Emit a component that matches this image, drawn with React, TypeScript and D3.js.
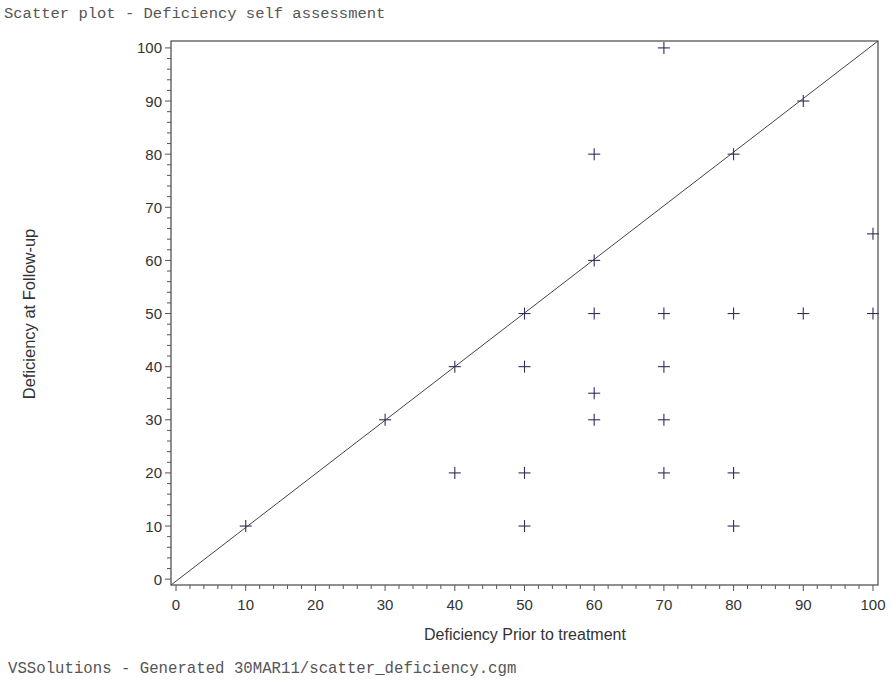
import { useEffect, useRef } from "react";
import * as d3 from "d3";

const W = 891;
const H = 682;

// follow-up deficiency vs deficiency prior to treatment
const priorValues = [10, 30, 40, 40, 50, 50, 50, 50, 60, 60, 60, 60, 60, 70, 70, 70, 70, 70, 80, 80, 80, 80, 90, 90, 100, 100];
const followValues = [10, 30, 40, 20, 50, 40, 20, 10, 80, 60, 50, 35, 30, 100, 50, 40, 30, 20, 80, 50, 20, 10, 90, 50, 65, 50];
const tickValues = [0, 10, 20, 30, 40, 50, 60, 70, 80, 90, 100];

const FRAME = { left: 171, right: 878, top: 41, bottom: 585 };

export default function App() {
  const svgRef = useRef<SVGSVGElement | null>(null);

  useEffect(() => {
    const svg = d3.select(svgRef.current);
    svg.selectAll("*").remove();

    // axis ranges padded a little so 0 and 100 sit inside the frame
    const x = d3.scaleLinear().domain([-0.72, 100.72]).range([FRAME.left, FRAME.right]);
    const y = d3.scaleLinear().domain([-1.1, 101.3]).range([FRAME.bottom, FRAME.top]);

    const textColor = "#333";
    const axisColor = "#555";
    const sans = "Liberation Sans, Arial, sans-serif";
    const mono = "Liberation Mono, Courier New, monospace";

    svg.append("rect").attr("width", W).attr("height", H).attr("fill", "#fff");

    svg
      .append("text")
      .attr("x", 4)
      .attr("y", 18)
      .attr("font-family", mono)
      .attr("font-size", 15.5)
      .attr("fill", "#555")
      .text("Scatter plot - Deficiency self assessment");

    svg
      .append("text")
      .attr("x", 8)
      .attr("y", 673)
      .attr("font-family", mono)
      .attr("font-size", 15.7)
      .attr("fill", "#555")
      .text("VSSolutions - Generated 30MAR11/scatter_deficiency.cgm");

    // frame
    svg
      .append("rect")
      .attr("x", FRAME.left)
      .attr("y", FRAME.top)
      .attr("width", FRAME.right - FRAME.left)
      .attr("height", FRAME.bottom - FRAME.top)
      .attr("fill", "none")
      .attr("stroke", axisColor)
      .attr("stroke-width", 1.3);

    const minor = d3.range(0, 101, 2).filter((v) => v % 10 !== 0);

    // x axis
    const xAxis = svg.append("g").attr("stroke", axisColor).attr("stroke-width", 1);
    tickValues.forEach((v) => {
      xAxis.append("line").attr("x1", x(v)).attr("x2", x(v)).attr("y1", FRAME.bottom).attr("y2", FRAME.bottom + 6);
    });
    minor.forEach((v) => {
      xAxis.append("line").attr("x1", x(v)).attr("x2", x(v)).attr("y1", FRAME.bottom).attr("y2", FRAME.bottom + 4);
    });
    svg
      .append("g")
      .selectAll("text")
      .data(tickValues)
      .join("text")
      .attr("x", (d) => x(d))
      .attr("y", FRAME.bottom + 25)
      .attr("text-anchor", "middle")
      .attr("font-family", sans)
      .attr("font-size", 15)
      .attr("fill", textColor)
      .text((d) => d);

    // y axis
    const yAxis = svg.append("g").attr("stroke", axisColor).attr("stroke-width", 1);
    tickValues.forEach((v) => {
      yAxis.append("line").attr("x1", FRAME.left - 6).attr("x2", FRAME.left).attr("y1", y(v)).attr("y2", y(v));
    });
    minor.forEach((v) => {
      yAxis.append("line").attr("x1", FRAME.left - 4).attr("x2", FRAME.left).attr("y1", y(v)).attr("y2", y(v));
    });
    svg
      .append("g")
      .selectAll("text")
      .data(tickValues)
      .join("text")
      .attr("x", FRAME.left - 9)
      .attr("y", (d) => y(d) + 5.5)
      .attr("text-anchor", "end")
      .attr("font-family", sans)
      .attr("font-size", 15)
      .attr("fill", textColor)
      .text((d) => d);

    svg
      .append("text")
      .attr("x", 525)
      .attr("y", 640)
      .attr("text-anchor", "middle")
      .attr("font-family", sans)
      .attr("font-size", 16)
      .attr("fill", textColor)
      .text("Deficiency Prior to treatment");

    svg
      .append("text")
      .attr("transform", `translate(35, 314) rotate(-90)`)
      .attr("text-anchor", "middle")
      .attr("font-family", sans)
      .attr("font-size", 16.5)
      .attr("fill", textColor)
      .text("Deficiency at Follow-up");

    // identity reference line across the frame
    const [x0, x1] = x.domain();
    const [y0, y1] = y.domain();
    svg
      .append("line")
      .attr("x1", x(x0))
      .attr("y1", y(y0))
      .attr("x2", x(x1))
      .attr("y2", y(y1))
      .attr("stroke", "#444")
      .attr("stroke-width", 1);

    // plus markers
    const pts = priorValues.map((p, i) => [p, followValues[i]] as [number, number]);
    const r = 6;
    const marks = svg.append("g").attr("stroke", "#2e2e5e").attr("stroke-width", 1.1);
    pts.forEach(([px, py]) => {
      const cx = x(px);
      const cy = y(py);
      marks.append("line").attr("x1", cx - r).attr("x2", cx + r).attr("y1", cy).attr("y2", cy);
      marks.append("line").attr("x1", cx).attr("x2", cx).attr("y1", cy - r).attr("y2", cy + r);
    });
  }, []);

  return (
    <svg
      ref={svgRef}
      width={W}
      height={H}
      style={{ position: "absolute", left: 0, top: 0, display: "block" }}
    />
  );
}
